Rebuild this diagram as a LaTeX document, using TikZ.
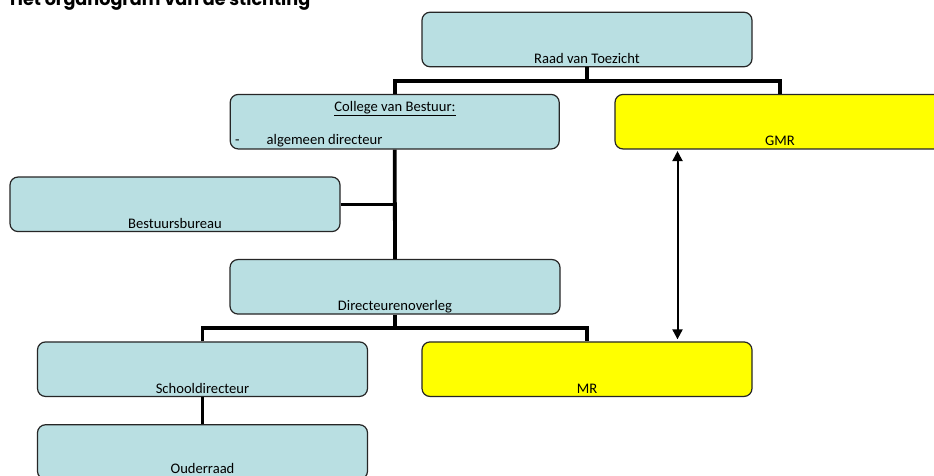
\documentclass[tikz,border=0pt]{standalone}
\usepackage{fontspec}
\setmainfont{Carlito}
\newfontfamily\titlefont{Poppins}
\usetikzlibrary{arrows.meta}
\definecolor{boxblue}{HTML}{B9DFE2}
\definecolor{boxyellow}{HTML}{FFFF00}
\definecolor{edge}{HTML}{262626}
\tikzset{
  orgbox/.style={draw=edge, line width=1.2pt, rounded corners=8pt, fill=boxblue,
    minimum width=330pt, minimum height=54.5pt, inner sep=0pt},
  yelbox/.style={orgbox, fill=boxyellow},
  lbl/.style={inner sep=0pt, font=\fontsize{14.6}{17}\selectfont, text=black},
  conn/.style={line width=3.8pt, line join=miter, line cap=butt},
  dblarrow/.style={line width=2pt, {Triangle[width=10pt,length=10pt]}-{Triangle[width=10pt,length=10pt]}},
}
\begin{document}
\begin{tikzpicture}[x=1pt, y=-1pt]
\clip (0,0) rectangle (934,476);
\fill[white] (0,0) rectangle (934,476);

% title (clipped at top, as in the reference)
\node[inner sep=0pt, anchor=base west, font=\titlefont\bfseries\fontsize{17.6}{20}\selectfont] (title) at (10,6) {Het organogram van de stichting};

% boxes
\node[orgbox] (raad) at (587,39.5) {};
\node[orgbox, minimum width=329pt] (col) at (394.7,121.7) {};
\node[yelbox] (gmr) at (780,121.7) {};
\node[orgbox] (bb) at (175,204.3) {};
\node[orgbox] (dir) at (395,286.8) {};
\node[orgbox] (school) at (202.5,369.2) {};
\node[yelbox] (mr) at (587,369.2) {};
\node[orgbox] (ouder) at (202.5,452) {};

% labels
\node[lbl, anchor=base] (traad) at ([yshift=4pt]raad.south) {Raad van Toezicht};
\node[lbl, anchor=base] (tcol) at (395,111.7) {\underline{College van Bestuur:}};
\node[lbl, anchor=base west] (tdash) at (235,144) {-};
\node[lbl, anchor=base west] (talg) at (266.5,144) {algemeen directeur};
\node[lbl, anchor=base] (tgmr) at ([yshift=4pt]gmr.south) {GMR};
\node[lbl, anchor=base] (tbb) at ([yshift=4pt]bb.south) {Bestuursbureau};
\node[lbl, anchor=base] (tdir) at ([yshift=4pt]dir.south) {Directeurenoverleg};
\node[lbl, anchor=base] (tschool) at ([yshift=4pt]school.south) {Schooldirecteur};
\node[lbl, anchor=base] (tmr) at ([yshift=4pt]mr.south) {MR};
\node[lbl, anchor=base] (touder) at (202.5,473) {Ouderraad};

% connectors
\coordinate (j1) at (587,80.7);
\coordinate (j2) at (395,328.3);
\coordinate (ax) at (677.5,0);
\draw[conn] (raad.south) -- (j1);
\draw[conn] (col.north) |- (j1) -| (gmr.north);
\draw[conn] (col.south) -- (dir.north);
\draw[conn, line width=3.4pt] (bb.east) -- (bb.east -| col.south);
\draw[conn] (dir.south) -- (j2);
\draw[conn] (school.north) |- (j2) -| (mr.north);
\draw[conn] (school.south) -- (ouder.north);
\draw[dblarrow] ([yshift=-1.5pt]gmr.south -| ax) -- ([yshift=2pt]mr.north -| ax);
\end{tikzpicture}
\end{document}
